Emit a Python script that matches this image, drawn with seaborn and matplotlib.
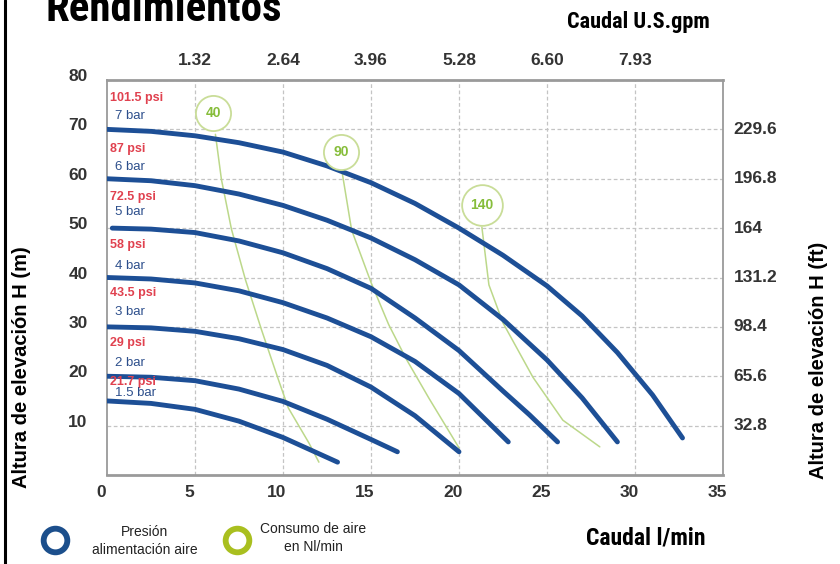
import matplotlib
matplotlib.use("Agg")
import matplotlib.pyplot as plt
from matplotlib import font_manager
import seaborn as sns
import pandas as pd

# ---------------- data ----------------
pressure_bar = ["7 bar", "6 bar", "5 bar", "4 bar", "3 bar", "2 bar", "1.5 bar"]
pressure_psi = ["101.5 psi", "87 psi", "72.5 psi", "58 psi", "43.5 psi", "29 psi", "21.7 psi"]

flow_7bar = [0, 2.5, 5, 7.5, 10, 12.5, 15, 17.5, 20, 22.5, 25, 27, 29, 31, 32.7]
head_7bar = [70, 69.6, 68.7, 67.3, 65.4, 62.6, 59.2, 55.0, 50.0, 44.5, 38.3, 32.2, 24.8, 16.2, 7.5]
flow_6bar = [0, 2.5, 5, 7.5, 10, 12.5, 15, 17.5, 20, 22.5, 25, 27, 29]
head_6bar = [60, 59.6, 58.6, 56.9, 54.6, 51.6, 48.0, 43.6, 38.5, 31.5, 23.3, 15.6, 6.7]
flow_5bar = [0.3, 2.5, 5, 7.5, 10, 12.5, 15, 17.5, 20, 22.5, 24, 25.6]
head_5bar = [50, 49.8, 49.1, 47.4, 45.0, 41.8, 37.8, 31.8, 25.2, 17.0, 12.2, 6.7]
flow_4bar = [0, 2.5, 5, 7.5, 10, 12.5, 15, 17.5, 20, 22.8]
head_4bar = [40, 39.7, 38.9, 37.3, 34.9, 31.8, 28.0, 23.0, 16.5, 6.7]
flow_3bar = [0, 2.5, 5, 7.5, 10, 12.5, 15, 17.5, 20]
head_3bar = [30, 29.8, 29.1, 27.6, 25.4, 22.2, 17.8, 12.0, 4.7]
flow_2bar = [0, 2.5, 5, 7.5, 10, 12.5, 15, 16.5]
head_2bar = [20, 19.8, 19.1, 17.4, 14.9, 11.3, 7.2, 4.7]
flow_15bar = [0, 2.5, 5, 7.5, 10, 13.1]
head_15bar = [15, 14.5, 13.3, 10.9, 7.6, 2.6]

air_labels = ["40", "90", "140"]
flow_air40 = [6.16, 6.5, 7.07, 7.87, 8.78, 9.75, 10.3, 11.47, 12.04]
head_air40 = [69.0, 59.9, 49.8, 39.5, 29.4, 19.2, 13.6, 6.5, 2.6]
flow_air90 = [13.35, 13.9, 15.0, 16.0, 17.0, 18.3, 20.0]
head_air90 = [61.5, 49.6, 39.0, 30.5, 23.5, 15.5, 5.5]
flow_air140 = [21.3, 21.7, 22.5, 24.2, 25.9, 28.0]
head_air140 = [50.2, 38.5, 30.8, 19.8, 11.1, 5.7]
air_label_flow = [6.05, 13.3, 21.3]
air_label_head = [73.3, 65.4, 54.7]

x_ticks = [0, 5, 10, 15, 20, 25, 30, 35]
y_ticks = [10, 20, 30, 40, 50, 60, 70, 80]
gpm_ticks = [5, 10, 15, 20, 25, 30]
gpm_labels = ["1.32", "2.64", "3.96", "5.28", "6.60", "7.93"]
ft_ticks = [10, 20, 30, 40, 50, 60, 70]
ft_labels = ["32.8", "65.6", "98.4", "131.2", "164", "196.8", "229.6"]

# ---------------- tables ----------------
pump_flows = [flow_7bar, flow_6bar, flow_5bar, flow_4bar, flow_3bar, flow_2bar, flow_15bar]
pump_heads = [head_7bar, head_6bar, head_5bar, head_4bar, head_3bar, head_2bar, head_15bar]
rows = []
for name, fl, hd in zip(pressure_bar, pump_flows, pump_heads):
    for f, h in zip(fl, hd):
        rows.append({"curve": name, "flow": f, "head": h})
df_pump = pd.DataFrame(rows)

air_flows = [flow_air40, flow_air90, flow_air140]
air_heads = [head_air40, head_air90, head_air140]
rows = []
for name, fl, hd in zip(air_labels, air_flows, air_heads):
    for f, h in zip(fl, hd):
        rows.append({"air": name, "flow": f, "head": h})
df_air = pd.DataFrame(rows)

# ---------------- fonts ----------------
sns.set_style("white")
plt.rcParams["font.family"] = ["Liberation Sans", "DejaVu Sans"]

entries = font_manager.fontManager.ttflist
names = {e.name for e in entries}
if "Liberation Sans Narrow" in names:
    cond_kw = dict(family=["Liberation Sans Narrow", "DejaVu Sans"])
elif "Roboto Condensed" in names:
    cond_kw = dict(family=["Roboto Condensed", "DejaVu Sans"])
elif any(e.name == "DejaVu Sans" and "ondensed" in str(e.stretch) for e in entries):
    cond_kw = dict(family=["DejaVu Sans"], fontstretch="condensed")
elif any(e.name == "Noto Sans" and "ondensed" in str(e.stretch) for e in entries):
    cond_kw = dict(family=["Noto Sans"], fontstretch="condensed")
elif "Roboto" in names:
    cond_kw = dict(family=["Roboto", "DejaVu Sans"])
else:
    cond_kw = dict(family=["Liberation Sans", "DejaVu Sans"])

BLUE = "#1d4f96"
GREEN_LINE = "#bcd88a"
GREEN_CIRC = "#c9dd98"
GREEN_TXT = "#86bd3a"
RED_TXT = "#e0414f"
BLUE_TXT = "#2d4f8c"
TICK_COL = "#333333"

W, H = 840, 564
fig = plt.figure(figsize=(W / 100, H / 100), dpi=100)
fig.patch.set_facecolor("white")

L, R, T, B = 107, 723, 80, 475
ax = fig.add_axes([L / W, (H - B) / H, (R - L) / W, (B - T) / H])

sns.lineplot(data=df_air, x="flow", y="head", hue="air",
             palette=[GREEN_LINE] * 3, legend=False, estimator=None,
             linewidth=1.1, ax=ax, zorder=3)
sns.lineplot(data=df_pump, x="flow", y="head", hue="curve",
             palette=[BLUE] * 7, legend=False, estimator=None,
             linewidth=3.5, ax=ax, zorder=4, solid_capstyle="round",
             solid_joinstyle="round")

# circles with consumption labels
sizes = [640, 640, 860]
for lab, fx, hy, s in zip(air_labels, air_label_flow, air_label_head, sizes):
    ax.scatter([fx], [hy], s=s, facecolor="white", edgecolor=GREEN_CIRC,
               linewidth=1.3, zorder=5)
    ax.text(fx, hy, lab, color=GREEN_TXT, fontsize=10, ha="center",
            va="center", zorder=6, fontweight="bold")

# pressure labels
psi_y = [76.3, 66.0, 56.3, 46.6, 36.8, 26.7, 18.8]
bar_y = [72.7, 62.3, 53.2, 42.3, 33.0, 22.7, 16.6]
for psi, bar, py, by in zip(pressure_psi, pressure_bar, psi_y, bar_y):
    ax.text(0.17, py, psi, color=RED_TXT, fontsize=9, fontweight="bold",
            ha="left", va="center", zorder=7)
    ax.text(0.46, by, bar, color=BLUE_TXT, fontsize=9.5, ha="left",
            va="center", zorder=7)

ax.set_xlim(0, 35)
ax.set_ylim(0, 80)
ax.set_xticks([5, 10, 15, 20, 25, 30])
ax.set_yticks(y_ticks)
ax.set_xticklabels([])
ax.set_yticklabels([])
ax.grid(True, color="#c4c4c4", linestyle=(0, (3, 2)), linewidth=0.9)
ax.tick_params(length=0)
ax.set_xlabel("")
ax.set_ylabel("")
for sp in ax.spines.values():
    sp.set_color("#9a9a9a")
    sp.set_linewidth(1.3)
ax.spines["top"].set_linewidth(2.0)
ax.spines["bottom"].set_linewidth(2.0)

tick_font = dict(fontsize=12.5, fontweight="bold", color=TICK_COL)

for v in x_ticks:
    ax.text(v - 0.35, -3.5, str(v), ha="center", va="center", clip_on=False, **tick_font)
for v in y_ticks:
    ax.text(-1.1, v + 0.7, str(v), ha="right", va="center", clip_on=False, **tick_font)
for v, lab in zip(gpm_ticks, gpm_labels):
    ax.text(v, 84.0, lab, ha="center", va="center", clip_on=False, **tick_font)
for v, lab in zip(ft_ticks, ft_labels):
    ax.text(35.6, v, lab, ha="left", va="center", clip_on=False, **tick_font)

# ---------------- overlay for page furniture ----------------
ov = fig.add_axes([0, 0, 1, 1], zorder=10)
ov.set_xlim(0, W)
ov.set_ylim(H, 0)
ov.axis("off")
ov.patch.set_alpha(0)

ov.plot([5, 5], [0, H], color="black", linewidth=2.2)
ov.text(45, 21, "Rendimientos", fontsize=31, fontweight="bold",
        va="baseline", ha="left", color="black", **cond_kw)
ov.text(638, 22, "Caudal U.S.gpm", fontsize=16, fontweight="bold",
        va="center", ha="center", color="black", **cond_kw)
ov.text(646, 538, "Caudal l/min", fontsize=17, fontweight="bold",
        va="center", ha="center", color="black", **cond_kw)
ov.text(22, 367, "Altura de elevación H (m)", fontsize=14.5, fontweight="bold",
        rotation=90, va="center", ha="center", color="black")
ov.text(818, 360, "Altura de elevación H (ft)", fontsize=14.5, fontweight="bold",
        rotation=90, va="center", ha="center", color="black")

ov.scatter([55], [540], s=290, facecolor="white", edgecolor="#1c4f8c", linewidth=4.2)
ov.scatter([237], [540], s=290, facecolor="white", edgecolor="#a9bf1f", linewidth=4.2)
ov.text(145, 541, "Presión\nalimentación aire", fontsize=10, ha="center",
        va="center", color="#222222", linespacing=1.35)
ov.text(313, 538, "Consumo de aire\nen Nl/min", fontsize=10, ha="center",
        va="center", color="#222222", linespacing=1.35)

fig.savefig("out.png", dpi=100, facecolor="white")
